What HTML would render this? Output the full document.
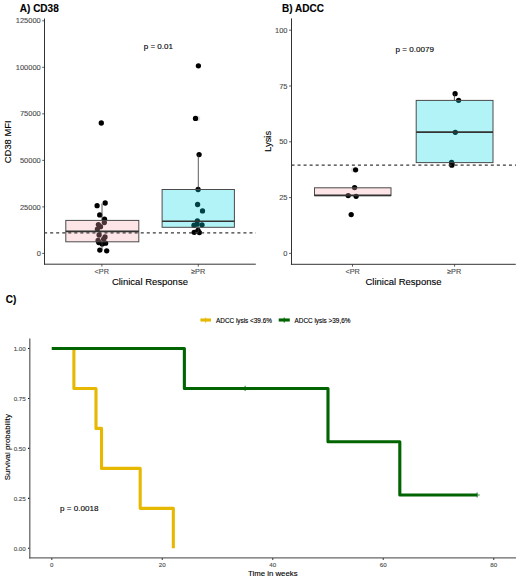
<!DOCTYPE html>
<html><head><meta charset="utf-8"><style>
html,body{margin:0;padding:0;background:#fff;width:520px;height:582px;overflow:hidden}
svg{display:block}
text{font-family:"Liberation Sans", sans-serif}
</style></head><body>
<svg width="520" height="582" viewBox="0 0 520 582" font-family='"Liberation Sans", sans-serif'>
<rect width="520" height="582" fill="#fff"/>
<text x="19.8" y="11.5" font-size="10" text-anchor="start" fill="#000" stroke="#000" stroke-width="0.12" font-weight="bold">A) CD38</text>
<line x1="42.2" y1="253.40" x2="44.5" y2="253.40" stroke="#333333" stroke-width="0.8"/>
<text x="40.8" y="256.05" font-size="7.5" text-anchor="end" fill="#4d4d4d" stroke="#4d4d4d" stroke-width="0.12">0</text>
<line x1="42.2" y1="206.88" x2="44.5" y2="206.88" stroke="#333333" stroke-width="0.8"/>
<text x="40.8" y="209.53" font-size="7.5" text-anchor="end" fill="#4d4d4d" stroke="#4d4d4d" stroke-width="0.12">25000</text>
<line x1="42.2" y1="160.36" x2="44.5" y2="160.36" stroke="#333333" stroke-width="0.8"/>
<text x="40.8" y="163.01000000000002" font-size="7.5" text-anchor="end" fill="#4d4d4d" stroke="#4d4d4d" stroke-width="0.12">50000</text>
<line x1="42.2" y1="113.84" x2="44.5" y2="113.84" stroke="#333333" stroke-width="0.8"/>
<text x="40.8" y="116.49000000000001" font-size="7.5" text-anchor="end" fill="#4d4d4d" stroke="#4d4d4d" stroke-width="0.12">75000</text>
<line x1="42.2" y1="67.32" x2="44.5" y2="67.32" stroke="#333333" stroke-width="0.8"/>
<text x="40.8" y="69.97" font-size="7.5" text-anchor="end" fill="#4d4d4d" stroke="#4d4d4d" stroke-width="0.12">100000</text>
<line x1="42.2" y1="20.80" x2="44.5" y2="20.80" stroke="#333333" stroke-width="0.8"/>
<text x="40.8" y="23.45000000000001" font-size="7.5" text-anchor="end" fill="#4d4d4d" stroke="#4d4d4d" stroke-width="0.12">125000</text>
<line x1="44.5" y1="18.5" x2="44.5" y2="264.7" stroke="#333333" stroke-width="1"/>
<line x1="44" y1="264.2" x2="255.8" y2="264.2" stroke="#333333" stroke-width="1"/>
<line x1="101.9" y1="264.2" x2="101.9" y2="266.6" stroke="#333333" stroke-width="0.8"/>
<line x1="198.3" y1="264.2" x2="198.3" y2="266.6" stroke="#333333" stroke-width="0.8"/>
<text x="101.8" y="274.2" font-size="7.3" text-anchor="middle" fill="#4d4d4d" stroke="#4d4d4d" stroke-width="0.12">&lt;PR</text>
<text x="198.2" y="274.2" font-size="7.3" text-anchor="middle" fill="#4d4d4d" stroke="#4d4d4d" stroke-width="0.12">≥PR</text>
<text x="149.9" y="285.0" font-size="9.5" text-anchor="middle" fill="#000" stroke="#000" stroke-width="0.12">Clinical Response</text>
<text x="10.6" y="141.8" font-size="9.4" text-anchor="middle" fill="#000" stroke="#000" stroke-width="0.12" transform="rotate(-90 10.6 141.8)">CD38 MFI</text>
<text x="143.7" y="48.7" font-size="8.05" text-anchor="start" fill="#000" stroke="#000" stroke-width="0.12">p = 0.01</text>
<circle cx="197.6" cy="118.4" r="2.65" fill="#000" opacity="0.12"/>
<circle cx="101.3" cy="123.0" r="2.65" fill="#000"/>
<circle cx="97.1" cy="205.7" r="2.65" fill="#000"/>
<circle cx="105.2" cy="203.0" r="2.65" fill="#000"/>
<circle cx="99.7" cy="214.9" r="2.65" fill="#000"/>
<circle cx="104.5" cy="219.2" r="2.65" fill="#000"/>
<circle cx="104.3" cy="222.6" r="2.65" fill="#000"/>
<circle cx="98.4" cy="224.6" r="2.65" fill="#000"/>
<circle cx="100.5" cy="226.7" r="2.65" fill="#000"/>
<circle cx="97.4" cy="229.1" r="2.65" fill="#000"/>
<circle cx="99.1" cy="235" r="2.65" fill="#000"/>
<circle cx="105" cy="237" r="2.65" fill="#000"/>
<circle cx="103.6" cy="239.1" r="2.65" fill="#000"/>
<circle cx="98.1" cy="240.5" r="2.65" fill="#000"/>
<circle cx="98.8" cy="242.5" r="2.65" fill="#000"/>
<circle cx="102.2" cy="243.9" r="2.65" fill="#000"/>
<circle cx="105.6" cy="243.2" r="2.65" fill="#000"/>
<circle cx="99.8" cy="250.1" r="2.65" fill="#000"/>
<circle cx="106.7" cy="250.8" r="2.65" fill="#000"/>
<circle cx="198.4" cy="65.8" r="2.65" fill="#000"/>
<circle cx="195.5" cy="118.4" r="2.65" fill="#000"/>
<circle cx="199.1" cy="154.6" r="2.65" fill="#000"/>
<circle cx="198.1" cy="189.5" r="2.65" fill="#000"/>
<circle cx="197.6" cy="204.5" r="2.65" fill="#000"/>
<circle cx="202.5" cy="210.9" r="2.65" fill="#000"/>
<circle cx="197.4" cy="220.8" r="2.65" fill="#000"/>
<circle cx="194" cy="225.2" r="2.65" fill="#000"/>
<circle cx="197.1" cy="224.2" r="2.65" fill="#000"/>
<circle cx="202" cy="224.8" r="2.65" fill="#000"/>
<circle cx="194.2" cy="232.3" r="2.65" fill="#000"/>
<circle cx="199.4" cy="232.6" r="2.65" fill="#000"/>
<circle cx="198" cy="230.3" r="2.65" fill="#000"/>
<line x1="102.0" y1="203.5" x2="102.0" y2="220.4" stroke="#333333" stroke-width="0.8"/><line x1="102.0" y1="241.8" x2="102.0" y2="250.5" stroke="#333333" stroke-width="0.8"/><rect x="65.8" y="220.4" width="73.00" height="21.40" fill="rgb(250,165,172)" fill-opacity="0.3" stroke="#4a4a4a" stroke-width="1"/><line x1="65.8" y1="231.4" x2="138.8" y2="231.4" stroke="#333333" stroke-width="1.6"/>
<line x1="198.3" y1="154.6" x2="198.3" y2="189.5" stroke="#333333" stroke-width="0.8"/><line x1="198.3" y1="227.3" x2="198.3" y2="232.5" stroke="#333333" stroke-width="0.8"/><rect x="162.1" y="189.5" width="72.30" height="37.80" fill="rgb(0,215,228)" fill-opacity="0.3" stroke="#4a4a4a" stroke-width="1"/><line x1="162.1" y1="221.2" x2="234.4" y2="221.2" stroke="#333333" stroke-width="1.6"/>
<line x1="44.1" y1="232.9" x2="255.8" y2="232.9" stroke="#3a3a3a" stroke-width="1.2" stroke-dasharray="3.02,3.02"/>
<text x="282.1" y="11.5" font-size="10" text-anchor="start" fill="#000" stroke="#000" stroke-width="0.12" font-weight="bold">B) ADCC</text>
<line x1="289.1" y1="253.40" x2="291.4" y2="253.40" stroke="#333333" stroke-width="0.8"/>
<text x="287.5" y="256.05" font-size="7.5" text-anchor="end" fill="#4d4d4d" stroke="#4d4d4d" stroke-width="0.12">0</text>
<line x1="289.1" y1="197.60" x2="291.4" y2="197.60" stroke="#333333" stroke-width="0.8"/>
<text x="287.5" y="200.25" font-size="7.5" text-anchor="end" fill="#4d4d4d" stroke="#4d4d4d" stroke-width="0.12">25</text>
<line x1="289.1" y1="141.80" x2="291.4" y2="141.80" stroke="#333333" stroke-width="0.8"/>
<text x="287.5" y="144.45000000000002" font-size="7.5" text-anchor="end" fill="#4d4d4d" stroke="#4d4d4d" stroke-width="0.12">50</text>
<line x1="289.1" y1="86.00" x2="291.4" y2="86.00" stroke="#333333" stroke-width="0.8"/>
<text x="287.5" y="88.65" font-size="7.5" text-anchor="end" fill="#4d4d4d" stroke="#4d4d4d" stroke-width="0.12">75</text>
<line x1="289.1" y1="30.20" x2="291.4" y2="30.20" stroke="#333333" stroke-width="0.8"/>
<text x="287.5" y="32.84999999999999" font-size="7.5" text-anchor="end" fill="#4d4d4d" stroke="#4d4d4d" stroke-width="0.12">100</text>
<line x1="291.5" y1="18.4" x2="291.5" y2="264.7" stroke="#333333" stroke-width="1"/>
<line x1="290.9" y1="264.3" x2="515.8" y2="264.3" stroke="#333333" stroke-width="1"/>
<line x1="352.5" y1="264.3" x2="352.5" y2="266.7" stroke="#333333" stroke-width="0.8"/>
<line x1="454.6" y1="264.3" x2="454.6" y2="266.7" stroke="#333333" stroke-width="0.8"/>
<text x="352.6" y="274.2" font-size="7.3" text-anchor="middle" fill="#4d4d4d" stroke="#4d4d4d" stroke-width="0.12">&lt;PR</text>
<text x="454.1" y="274.2" font-size="7.3" text-anchor="middle" fill="#4d4d4d" stroke="#4d4d4d" stroke-width="0.12">≥PR</text>
<text x="403.5" y="285.0" font-size="9.5" text-anchor="middle" fill="#000" stroke="#000" stroke-width="0.12">Clinical Response</text>
<text x="271.0" y="141.4" font-size="9.4" text-anchor="middle" fill="#000" stroke="#000" stroke-width="0.12" transform="rotate(-90 271.0 141.4)">Lysis</text>
<text x="395.5" y="52.4" font-size="8.1" text-anchor="start" fill="#000" stroke="#000" stroke-width="0.12">p = 0.0079</text>
<circle cx="353.6" cy="169.8" r="2.65" fill="#000" opacity="0.12"/>
<circle cx="355.6" cy="169.8" r="2.65" fill="#000"/>
<circle cx="354.6" cy="187.6" r="2.65" fill="#000"/>
<circle cx="348.2" cy="195.6" r="2.65" fill="#000"/>
<circle cx="356.1" cy="196.3" r="2.65" fill="#000"/>
<circle cx="351.2" cy="214.6" r="2.65" fill="#000"/>
<circle cx="455.1" cy="93.7" r="2.65" fill="#000"/>
<circle cx="458.6" cy="100.3" r="2.65" fill="#000"/>
<circle cx="455.3" cy="132.3" r="2.65" fill="#000"/>
<circle cx="451.6" cy="162.3" r="2.65" fill="#000"/>
<circle cx="451.8" cy="165.2" r="2.65" fill="#000"/>
<line x1="352.5" y1="187.8" x2="352.5" y2="187.8" stroke="#333333" stroke-width="0.8"/><line x1="352.5" y1="195.6" x2="352.5" y2="195.6" stroke="#333333" stroke-width="0.8"/><rect x="314.5" y="187.8" width="76.50" height="7.80" fill="rgb(250,165,172)" fill-opacity="0.3" stroke="#4a4a4a" stroke-width="1"/><line x1="314.5" y1="195.4" x2="391.0" y2="195.4" stroke="#333333" stroke-width="1.6"/>
<line x1="454.4" y1="93.7" x2="454.4" y2="100.4" stroke="#333333" stroke-width="0.8"/><line x1="454.4" y1="162.6" x2="454.4" y2="165.2" stroke="#333333" stroke-width="0.8"/><rect x="416.2" y="100.4" width="76.80" height="62.20" fill="rgb(0,215,228)" fill-opacity="0.3" stroke="#4a4a4a" stroke-width="1"/><line x1="416.2" y1="132.1" x2="493.0" y2="132.1" stroke="#333333" stroke-width="1.6"/>
<line x1="291.5" y1="165.15" x2="516" y2="165.15" stroke="#3a3a3a" stroke-width="1.2" stroke-dasharray="3.02,3.02"/>
<text x="5.8" y="302.9" font-size="10" text-anchor="start" fill="#000" stroke="#000" stroke-width="0.12" font-weight="bold">C)</text>
<line x1="28.0" y1="548.30" x2="29.8" y2="548.30" stroke="#111" stroke-width="1.1"/>
<text x="25.7" y="550.55" font-size="6.2" text-anchor="end" fill="#4d4d4d" stroke="#4d4d4d" stroke-width="0.12">0.00</text>
<line x1="28.0" y1="498.35" x2="29.8" y2="498.35" stroke="#111" stroke-width="1.1"/>
<text x="25.7" y="500.59999999999997" font-size="6.2" text-anchor="end" fill="#4d4d4d" stroke="#4d4d4d" stroke-width="0.12">0.25</text>
<line x1="28.0" y1="448.40" x2="29.8" y2="448.40" stroke="#111" stroke-width="1.1"/>
<text x="25.7" y="450.65" font-size="6.2" text-anchor="end" fill="#4d4d4d" stroke="#4d4d4d" stroke-width="0.12">0.50</text>
<line x1="28.0" y1="398.45" x2="29.8" y2="398.45" stroke="#111" stroke-width="1.1"/>
<text x="25.7" y="400.69999999999993" font-size="6.2" text-anchor="end" fill="#4d4d4d" stroke="#4d4d4d" stroke-width="0.12">0.75</text>
<line x1="28.0" y1="348.50" x2="29.8" y2="348.50" stroke="#111" stroke-width="1.1"/>
<text x="25.7" y="350.74999999999994" font-size="6.2" text-anchor="end" fill="#4d4d4d" stroke="#4d4d4d" stroke-width="0.12">1.00</text>
<line x1="51.80" y1="557.9" x2="51.80" y2="559.8" stroke="#111" stroke-width="1.1"/>
<text x="51.8" y="566.8" font-size="6.2" text-anchor="middle" fill="#4d4d4d" stroke="#4d4d4d" stroke-width="0.12">0</text>
<line x1="162.28" y1="557.9" x2="162.28" y2="559.8" stroke="#111" stroke-width="1.1"/>
<text x="162.28" y="566.8" font-size="6.2" text-anchor="middle" fill="#4d4d4d" stroke="#4d4d4d" stroke-width="0.12">20</text>
<line x1="272.76" y1="557.9" x2="272.76" y2="559.8" stroke="#111" stroke-width="1.1"/>
<text x="272.76" y="566.8" font-size="6.2" text-anchor="middle" fill="#4d4d4d" stroke="#4d4d4d" stroke-width="0.12">40</text>
<line x1="383.24" y1="557.9" x2="383.24" y2="559.8" stroke="#111" stroke-width="1.1"/>
<text x="383.24" y="566.8" font-size="6.2" text-anchor="middle" fill="#4d4d4d" stroke="#4d4d4d" stroke-width="0.12">60</text>
<line x1="493.72" y1="557.9" x2="493.72" y2="559.8" stroke="#111" stroke-width="1.1"/>
<text x="493.72" y="566.8" font-size="6.2" text-anchor="middle" fill="#4d4d4d" stroke="#4d4d4d" stroke-width="0.12">80</text>
<line x1="29.8" y1="338.5" x2="29.8" y2="558.6" stroke="#666" stroke-width="1.3"/>
<line x1="29.15" y1="557.9" x2="516" y2="557.9" stroke="#666" stroke-width="1.3"/>
<text x="10.0" y="447.2" font-size="7.9" text-anchor="middle" fill="#000" stroke="#000" stroke-width="0.12" transform="rotate(-90 10.0 447.2)">Survival probability</text>
<text x="272.8" y="575.9" font-size="7.8" text-anchor="middle" fill="#000" stroke="#000" stroke-width="0.12">Time in weeks</text>
<text x="60.1" y="511.2" font-size="8.1" text-anchor="start" fill="#000" stroke="#000" stroke-width="0.12">p = 0.0018</text>
<path d="M51.80,348.50 H73.90 V388.46 H95.99 V428.42 H101.52 V468.38 H140.18 V508.34 H173.33 V548.30" fill="none" stroke="#E7B800" stroke-width="3.1" stroke-linejoin="round"/>
<path d="M51.80,348.50 H184.38 V388.46 H328.00 V441.75 H399.81 V495.01 H477.15" fill="none" stroke="#006400" stroke-width="3.1" stroke-linejoin="round"/>
<path d="M245.14,385.86 V391.06 M242.54,388.46 H247.74" stroke="#006400" stroke-width="1.1" opacity="0.8"/>
<path d="M477.15,492.41 V497.61 M474.55,495.01 H479.75" stroke="#006400" stroke-width="1.1" opacity="0.8"/>
<line x1="200.4" y1="320" x2="211" y2="320" stroke="#E7B800" stroke-width="3.1"/>
<line x1="205.7" y1="317.6" x2="205.7" y2="322.6" stroke="#E7B800" stroke-width="1"/>
<text x="216" y="322.8" font-size="6.4" text-anchor="start" fill="#000" stroke="#000" stroke-width="0.12">ADCC lysis &lt;39.6%</text>
<line x1="278.7" y1="320" x2="289.8" y2="320" stroke="#006400" stroke-width="3.1"/>
<line x1="284.2" y1="317.6" x2="284.2" y2="322.6" stroke="#006400" stroke-width="1"/>
<text x="294.5" y="322.8" font-size="6.4" text-anchor="start" fill="#000" stroke="#000" stroke-width="0.12">ADCC lysis &gt;39,6%</text>
</svg>
</body></html>
